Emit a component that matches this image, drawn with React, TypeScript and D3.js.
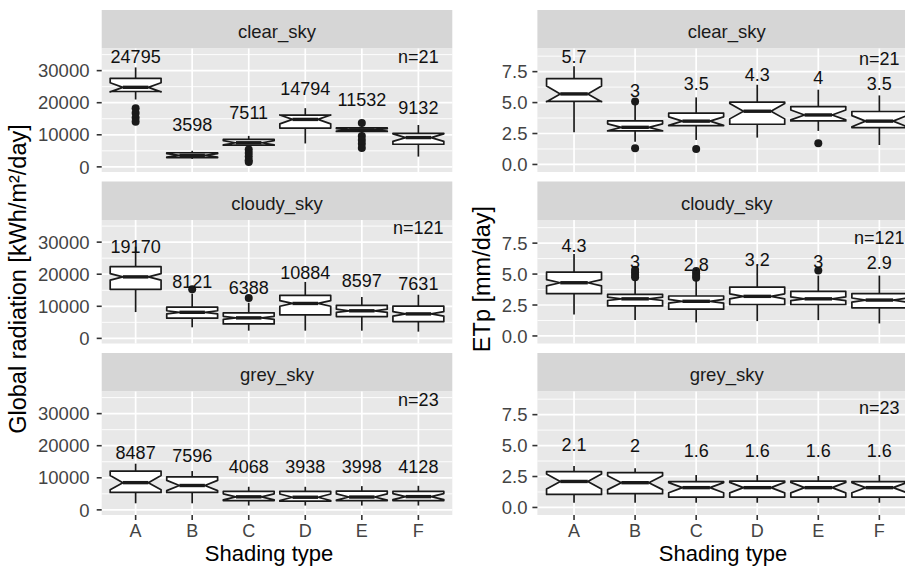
import React from "react";
import * as d3 from "d3";

const cats = ["A", "B", "C", "D", "E", "F"];
const skies = ["clear_sky", "cloudy_sky", "grey_sky"];
const skyN = [21, 121, 23];

// each box: [lower whisker, q1, median, q3, upper whisker]
const radClear = [
  [21000, 23500, 24795, 27600, 31000],
  [2500, 2900, 3598, 4400, 5000],
  [6200, 6750, 7511, 8550, 9650],
  [7300, 12100, 14794, 16150, 18300],
  [10300, 11050, 11532, 12150, 12800],
  [3200, 7050, 9132, 10450, 13050],
];
const radClearOut = [[18300, 16800, 15300, 14100], [], [5400, 4300, 3200, 2100, 1500], [], [13700, 9600, 8400, 7200, 5900], []];

const radCloudy = [
  [8200, 15300, 19170, 22350, 28600],
  [3450, 6300, 8121, 9750, 13950],
  [2400, 4500, 6388, 7950, 11100],
  [2400, 7350, 10884, 13400, 17600],
  [2400, 6800, 8597, 10300, 12900],
  [2100, 5250, 7631, 10050, 13600],
];
const radCloudyOut = [[], [15300], [12600], [], [], []];

const radGrey = [
  [2050, 5450, 8487, 12100, 14400],
  [2050, 5450, 7596, 10300, 12100],
  [1350, 2900, 4068, 5750, 7200],
  [1350, 2700, 3938, 5750, 7200],
  [1350, 2900, 3998, 5850, 7400],
  [1350, 2900, 4128, 5750, 7500],
];
const radGreyOut = [[], [], [], [], [], []];

const etpClear = [
  [2.6, 5.1, 5.7, 6.93, 7.93],
  [1.84, 2.71, 3, 3.52, 4.82],
  [1.98, 3.14, 3.5, 4.14, 5.42],
  [2.17, 3.25, 4.3, 5.04, 6.44],
  [2.71, 3.52, 4, 4.68, 6.04],
  [1.57, 2.98, 3.5, 4.28, 5.58],
];
const etpClearOut = [[], [5.09, 1.3], [1.25], [], [1.71], []];

const etpCloudy = [
  [1.73, 3.42, 4.3, 5.15, 6.62],
  [1.28, 2.43, 3, 3.36, 4.48],
  [1.09, 2.16, 2.8, 3.23, 4.48],
  [1.2, 2.54, 3.2, 3.95, 5.68],
  [1.28, 2.54, 3, 3.6, 4.88],
  [1.01, 2.27, 2.9, 3.42, 4.88],
];
const etpCloudyOut = [[], [5.35, 5.15, 4.95, 4.75], [5.25, 5.05, 4.85, 4.7], [], [5.28], []];

const etpGrey = [
  [0.38, 1.05, 2.1, 2.89, 3.34],
  [0.38, 1.11, 2, 2.81, 3.16],
  [0.38, 0.84, 1.6, 2.08, 2.62],
  [0.38, 0.84, 1.6, 2.13, 2.62],
  [0.38, 0.84, 1.6, 2.13, 2.54],
  [0.38, 0.84, 1.6, 2.08, 2.62],
];
const etpGreyOut = [[], [], [], [], [], []];

const radTicks = [0, 10000, 20000, 30000];
const radMinor = [5000, 15000, 25000, 35000];
const etpTicks = [0, 2.5, 5, 7.5];
const etpMinor = [1.25, 3.75, 6.25, 8.75];
const radNLabelY = [34500, 34500, 34500];
const etpNLabelY = [8.6, 7.95, 8.1];

const FONT = '"Liberation Sans", Arial, Helvetica, sans-serif';
const stripTops = [10, 181.5, 353];
const STRIP_H = 38.5;
const PLOT_H = 123.5;
const INK = "#1a1a1a";

const charts = [
  {
    x0: 101.7, x1: 452.3, domain: [-1600, 36900],
    ticks: radTicks, minor: radMinor, fmt: (d: number) => String(d),
    labelUp: 9500, nY: radNLabelY,
    boxes: [radClear, radCloudy, radGrey], outs: [radClearOut, radCloudyOut, radGreyOut],
    tickLabelX: 89.5, title: "Global radiation [kWh/m²/day]", titleX: 25.5, xTitleX: 269,
  },
  {
    x0: 537.4, x1: 916, domain: [-0.61, 9.37],
    ticks: etpTicks, minor: etpMinor, fmt: d3.format(".1f"),
    labelUp: 3, nY: etpNLabelY,
    boxes: [etpClear, etpCloudy, etpGrey], outs: [etpClearOut, etpCloudyOut, etpGreyOut],
    tickLabelX: 527.5, title: "ETp [mm/day]", titleX: 489.5, xTitleX: 723,
  },
];

function Panel({ chart, row }: any) {
  const top = stripTops[row] + STRIP_H;
  const bottom = top + PLOT_H;
  const x = d3.scaleBand().domain(cats).range([chart.x0, chart.x1]).paddingInner(0).paddingOuter(0.1);
  const y = d3.scaleLinear().domain(chart.domain).range([bottom, top]);
  const bw = x.bandwidth();
  const hw = (bw * 0.9) / 2;
  const inset = hw * 0.5;
  const line = d3.line();
  const n = skyN[row];
  return (
    <g>
      <rect x={chart.x0} y={stripTops[row]} width={chart.x1 - chart.x0} height={STRIP_H} fill="#D6D6D6" />
      <text x={(chart.x0 + chart.x1) / 2} y={stripTops[row] + 28} textAnchor="middle" fontSize={18.5} fill="#1A1A1A">
        {skies[row]}
      </text>
      <rect x={chart.x0} y={top} width={chart.x1 - chart.x0} height={PLOT_H} fill="#E8E8E8" />
      {chart.minor.map((m: number) => (
        <line key={"mi" + m} x1={chart.x0} x2={chart.x1} y1={y(m)} y2={y(m)} stroke="#fff" strokeWidth={0.9} />
      ))}
      {chart.ticks.map((t: number) => (
        <line key={"ma" + t} x1={chart.x0} x2={chart.x1} y1={y(t)} y2={y(t)} stroke="#fff" strokeWidth={1.7} />
      ))}
      {cats.map((c) => (
        <line key={"v" + c} x1={x(c)! + bw / 2} x2={x(c)! + bw / 2} y1={top} y2={bottom} stroke="#fff" strokeWidth={1.7} />
      ))}
      {chart.boxes[row].map((b: number[], i: number) => {
        const cx = x(cats[i])! + bw / 2;
        const [lo, q1, med, q3, hi] = b;
        const notch = (1.58 * (q3 - q1)) / Math.sqrt(n);
        const pts: [number, number][] = [
          [cx - hw, y(q3)], [cx - hw, y(med + notch)], [cx - hw + inset, y(med)], [cx - hw, y(med - notch)],
          [cx - hw, y(q1)], [cx + hw, y(q1)], [cx + hw, y(med - notch)], [cx + hw - inset, y(med)],
          [cx + hw, y(med + notch)], [cx + hw, y(q3)],
        ];
        return (
          <g key={"b" + i}>
            <line x1={cx} x2={cx} y1={y(hi)} y2={y(q3)} stroke={INK} strokeWidth={1.7} />
            <line x1={cx} x2={cx} y1={y(q1)} y2={y(lo)} stroke={INK} strokeWidth={1.7} />
            <path d={line(pts) + "Z"} fill="#fff" stroke={INK} strokeWidth={1.7} strokeLinejoin="round" />
            <line x1={cx - hw + inset} x2={cx + hw - inset} y1={y(med)} y2={y(med)} stroke={INK} strokeWidth={3.4} />
            {chart.outs[row][i].map((o: number, k: number) => (
              <circle key={k} cx={cx} cy={y(o)} r={4} fill={INK} />
            ))}
            <text x={cx} y={y(med + chart.labelUp)} dy="0.36em" textAnchor="middle" fontSize={18} fill="#111">
              {String(med)}
            </text>
          </g>
        );
      })}
      <text x={x("F")! + bw / 2} y={y(chart.nY[row])} dy="0.36em" textAnchor="middle" fontSize={18} fill="#111">
        {"n=" + n}
      </text>
      {chart.ticks.map((t: number) => (
        <g key={"t" + t}>
          <line x1={chart.x0 - 5} x2={chart.x0} y1={y(t)} y2={y(t)} stroke="#333" strokeWidth={1.6} />
          <text x={chart.tickLabelX} y={y(t)} dy="0.36em" textAnchor="end" fontSize={18.5} fill="#444">
            {chart.fmt(t)}
          </text>
        </g>
      ))}
      {row === 2 &&
        cats.map((c) => (
          <g key={"xt" + c}>
            <line x1={x(c)! + bw / 2} x2={x(c)! + bw / 2} y1={bottom} y2={bottom + 5} stroke="#333" strokeWidth={1.6} />
            <text x={x(c)! + bw / 2} y={536.5} textAnchor="middle" fontSize={18} fill="#444">
              {c}
            </text>
          </g>
        ))}
    </g>
  );
}

export default function App() {
  return (
    <svg width={905} height={571} style={{ position: "absolute", left: 0, top: 0, background: "#fff" }} fontFamily={FONT}>
      {charts.map((ch, ci) => (
        <g key={ci}>
          {[0, 1, 2].map((r) => (
            <Panel key={r} chart={ch} row={r} />
          ))}
          <text transform={`translate(${ch.titleX},279) rotate(-90)`} textAnchor="middle" fontSize={23.5} fill="#000">
            {ch.title}
          </text>
          <text x={ch.xTitleX} y={561} textAnchor="middle" fontSize={22} fill="#000">
            Shading type
          </text>
        </g>
      ))}
    </svg>
  );
}
